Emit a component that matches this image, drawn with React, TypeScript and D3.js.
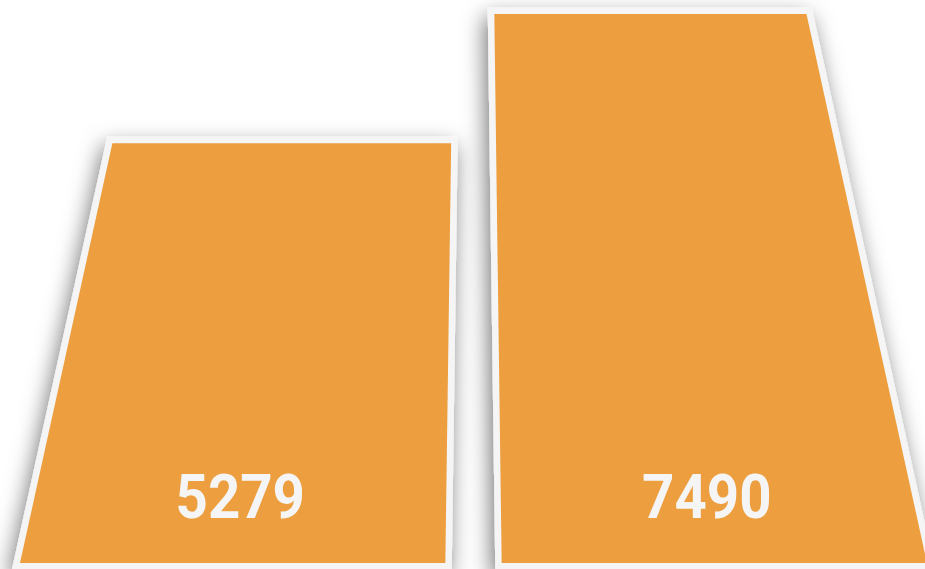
import React from "react";
import * as d3 from "d3";

const categories = ["A", "B"];
const values = [5279, 7490];

const W = 925;
const H = 569;
const baseY = 563; // value 0 line
const cx = 474; // vanishing point x
const D = 2063; // distance from base line to vanishing point

const orange = "#ed9e3e";
const frame = "#f5f5f5";

const App = () => {
  const x = d3
    .scaleBand<string>()
    .domain(categories)
    .range([20, 927])
    .paddingInner(0.117)
    .paddingOuter(0);

  // depth of a value along the tilted plane
  const depth = d3.scaleLinear().domain([0, 8000]).range([0, 8000 * 4.84e-5]);

  const project = (xf: number, v: number): [number, number] => {
    const u = depth(v);
    const s = 1 / (1 + u);
    return [cx + (xf - cx) * s, baseY - D * u * s];
  };

  const line = d3.line<[number, number]>();

  const bars = categories.map((c, i) => {
    const x0 = x(c) as number;
    const x1 = x0 + x.bandwidth();
    const v = values[i];
    const pts: [number, number][] = [
      project(x0, 0),
      project(x0, v),
      project(x1, v),
      project(x1, 0),
    ];
    // label centre sits ~65px above the base, shrunk toward the vanishing point
    const s = 1 - 65 / D;
    const lx = cx + (x0 + x.bandwidth() / 2 - cx) * s;
    return { c, v, d: line(pts) + "Z", lx, ly: baseY - 45 };
  });

  return (
    <svg
      width={W}
      height={H}
      style={{ position: "absolute", left: 0, top: 0, background: "#fff" }}
    >
      <defs>
        <filter id="shadow" x="-20%" y="-20%" width="140%" height="140%">
          <feDropShadow
            dx={-3}
            dy={9}
            stdDeviation={11}
            floodColor="#000"
            floodOpacity={0.55}
          />
        </filter>
      </defs>
      {bars.map((b) => (
        <g key={b.c}>
          <path
            d={b.d}
            fill={frame}
            stroke={frame}
            strokeWidth={13}
            strokeLinejoin="miter"
            filter="url(#shadow)"
          />
          <path d={b.d} fill={orange} />
          <text
            x={b.lx}
            y={b.ly}
            textAnchor="middle"
            fill={frame}
            fontFamily="Roboto, sans-serif"
            fontWeight={700}
            fontSize={62}
            transform={`translate(${b.lx},0) scale(0.91,1) translate(${-b.lx},0)`}
          >
            {b.v}
          </text>
        </g>
      ))}
    </svg>
  );
};

export default App;
